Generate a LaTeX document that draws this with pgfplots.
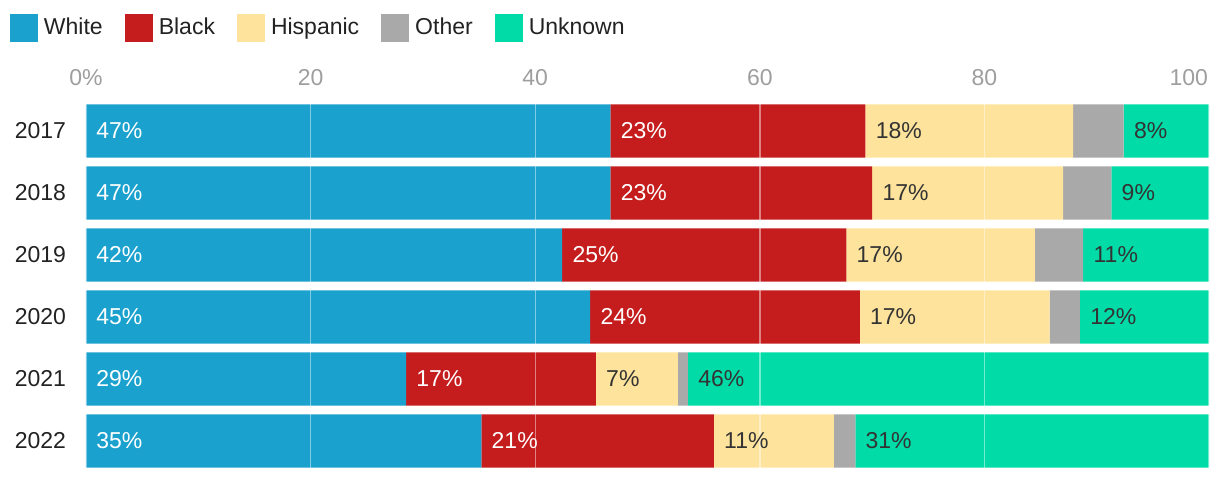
\documentclass[border=0pt]{standalone}
\usepackage{fontspec}
\setmainfont{Liberation Sans}
\usepackage{pgfplots}
\pgfplotsset{compat=1.18}
\usepackage{pgfplotstable}

\definecolor{cWhite}{HTML}{1AA1CE}
\definecolor{cBlack}{HTML}{C51D1D}
\definecolor{cHisp}{HTML}{FEE39C}
\definecolor{cOther}{HTML}{A9A9A9}
\definecolor{cUnk}{HTML}{00DBA8}
\definecolor{cText}{HTML}{222222}
\definecolor{cDark}{HTML}{333333}
\definecolor{cTick}{HTML}{9E9E9E}

\pgfplotstableread{
y White Black Hispanic Other Unknown
0 46.7 22.7 18.5 4.5 7.6
1 46.7 23.3 17.0 4.3 8.7
2 42.4 25.3 16.8 4.3 11.2
3 44.9 24.0 16.9 2.7 11.5
4 28.5 16.9 7.3 0.9 46.4
5 35.2 20.7 10.7 1.9 31.5
}\bars

\pgfplotstableread{
y xw lw xb lb xh lh xu lu
0 0 47 46.7 23 69.4 18 92.4 8
1 0 47 46.7 23 70.0 17 91.3 9
2 0 42 42.4 25 67.7 17 88.8 11
3 0 45 44.9 24 68.9 17 88.5 12
4 0 29 28.5 17 45.4 7 53.6 46
5 0 35 35.2 21 55.9 11 68.5 31
}\labels

\pgfplotsset{common/.style={width=561.5pt,height=186pt,scale only axis,
  xmin=0,xmax=100,ymin=-0.5,ymax=5.5,y dir=reverse,
  at={(43pt,4pt)}, anchor=south west}}

\begin{document}
\begin{tikzpicture}[font=\fontsize{11.5}{13.8}\selectfont]
\useasboundingbox (0,0) rectangle (610pt,240pt);
\begin{axis}[common, xbar stacked, bar width=0.855, axis on top,
  axis line style={draw=none}, major tick length=0pt,
  xtick={0,20,40,60,80}, xticklabels={0\%,20,40,60,80},
  extra x ticks={100}, extra x tick labels={100},
  extra x tick style={xticklabel style={anchor=south east, xshift=3pt}},
  xticklabel pos=upper,
  ticklabel style={font=\fontsize{11.5}{13.8}\selectfont},
  xticklabel style={text=cTick, yshift=3.4pt},
  ytick={0,1,2,3,4,5}, yticklabels={2017,2018,2019,2020,2021,2022},
  yticklabel style={text=cText, xshift=-6.5pt},
  xmajorgrids, grid style={white, opacity=0.45, line width=0.7pt},
  legend columns=-1,
  legend image code/.code={\fill[#1,draw=none] (0pt,-7pt) rectangle (14pt,7pt);},
  legend style={at={(rel axis cs:0,1)}, anchor=west, xshift=-38pt, yshift=36pt,
    draw=none, fill=none, inner sep=0pt, outer sep=0pt,
    font=\fontsize{11.5}{13.8}\selectfont,
    nodes={inner xsep=0pt, inner ysep=0pt, text=cText},
    /tikz/every odd column/.style={column sep=3pt},
    /tikz/every even column/.style={column sep=11pt}},
]
\addplot[fill=cWhite, draw=none] table[x=White, y=y] {\bars};
\addplot[fill=cBlack, draw=none] table[x=Black, y=y] {\bars};
\addplot[fill=cHisp, draw=none] table[x=Hispanic, y=y] {\bars};
\addplot[fill=cOther, draw=none] table[x=Other, y=y] {\bars};
\addplot[fill=cUnk, draw=none] table[x=Unknown, y=y] {\bars};
\legend{White,Black,Hispanic,Other,Unknown}
\end{axis}
\begin{axis}[common, hide axis,
  every node near coord/.append style={anchor=west, inner sep=0pt, xshift=5pt,
    font=\fontsize{11.5}{13.8}\selectfont}]
\addplot[draw=none, mark=none, point meta=explicit symbolic,
  nodes near coords={\pgfplotspointmeta\%},
  every node near coord/.append style={text=white}] table[x=xw, y=y, meta=lw] {\labels};
\addplot[draw=none, mark=none, point meta=explicit symbolic,
  nodes near coords={\pgfplotspointmeta\%},
  every node near coord/.append style={text=white}] table[x=xb, y=y, meta=lb] {\labels};
\addplot[draw=none, mark=none, point meta=explicit symbolic,
  nodes near coords={\pgfplotspointmeta\%},
  every node near coord/.append style={text=cDark}] table[x=xh, y=y, meta=lh] {\labels};
\addplot[draw=none, mark=none, point meta=explicit symbolic,
  nodes near coords={\pgfplotspointmeta\%},
  every node near coord/.append style={text=cDark}] table[x=xu, y=y, meta=lu] {\labels};
\end{axis}
\end{tikzpicture}
\end{document}
